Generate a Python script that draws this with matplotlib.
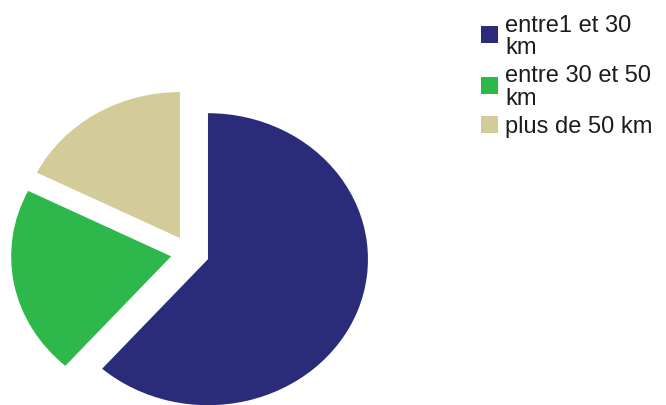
import matplotlib
matplotlib.use("Agg")
import matplotlib.pyplot as plt
from matplotlib.patches import Rectangle

# Distance categories and their shares (%)
categories = ["entre1 et 30\nkm", "entre 30 et 50\nkm", "plus de 50 km"]
shares = [61.5, 20.9, 17.6]
colors = ["#2a2c7a", "#2eb84b", "#d3cb98"]
explode = [0.12, 0.12, 0.12]

W, H = 666, 406
fig = plt.figure(figsize=(W / 100, H / 100), dpi=100)
fig.patch.set_facecolor("white")

# Pie axes (slightly wider than tall, giving the oval look)
rx, ry = 160.0, 146.0          # pixels per data unit
cx, cy = 190.0, H - 254.0      # pie centre in pixels from bottom-left
lim = 1.25
ax = fig.add_axes([(cx - lim * rx) / W, (cy - lim * ry) / H,
                   2 * lim * rx / W, 2 * lim * ry / H])
ax.pie(shares, colors=colors, explode=explode, startangle=90,
       counterclock=False, radius=1.0,
       wedgeprops=dict(linewidth=0, antialiased=True))
ax.set_aspect("auto")
ax.set_xlim(-lim, lim)
ax.set_ylim(-lim, lim)
ax.axis("off")

# Legend drawn entry by entry on the right
font = dict(family=["Liberation Sans", "DejaVu Sans"], size=17, color="#1c1c1c")
line_step = 22.5    # between lines of one label
entry_gap = 28.0    # from the last line of one label to the next label
text_x = 505
sq_x, sq = 481, 17
baseline = 32.0
for label, col in zip(categories, colors):
    lines = label.split("\n")
    first = baseline
    for ln in lines:
        fig.text(text_x / W, 1 - baseline / H, ln, ha="left", va="baseline", **font)
        last = baseline
        baseline += line_step
    baseline = last + entry_gap
    top = first - 15.5
    mid = (top + last) / 2
    fig.patches.append(Rectangle((sq_x / W, 1 - (mid + sq / 2) / H), sq / W, sq / H,
                                 transform=fig.transFigure, facecolor=col,
                                 edgecolor="none"))

fig.savefig("out.png", dpi=100, facecolor="white")
